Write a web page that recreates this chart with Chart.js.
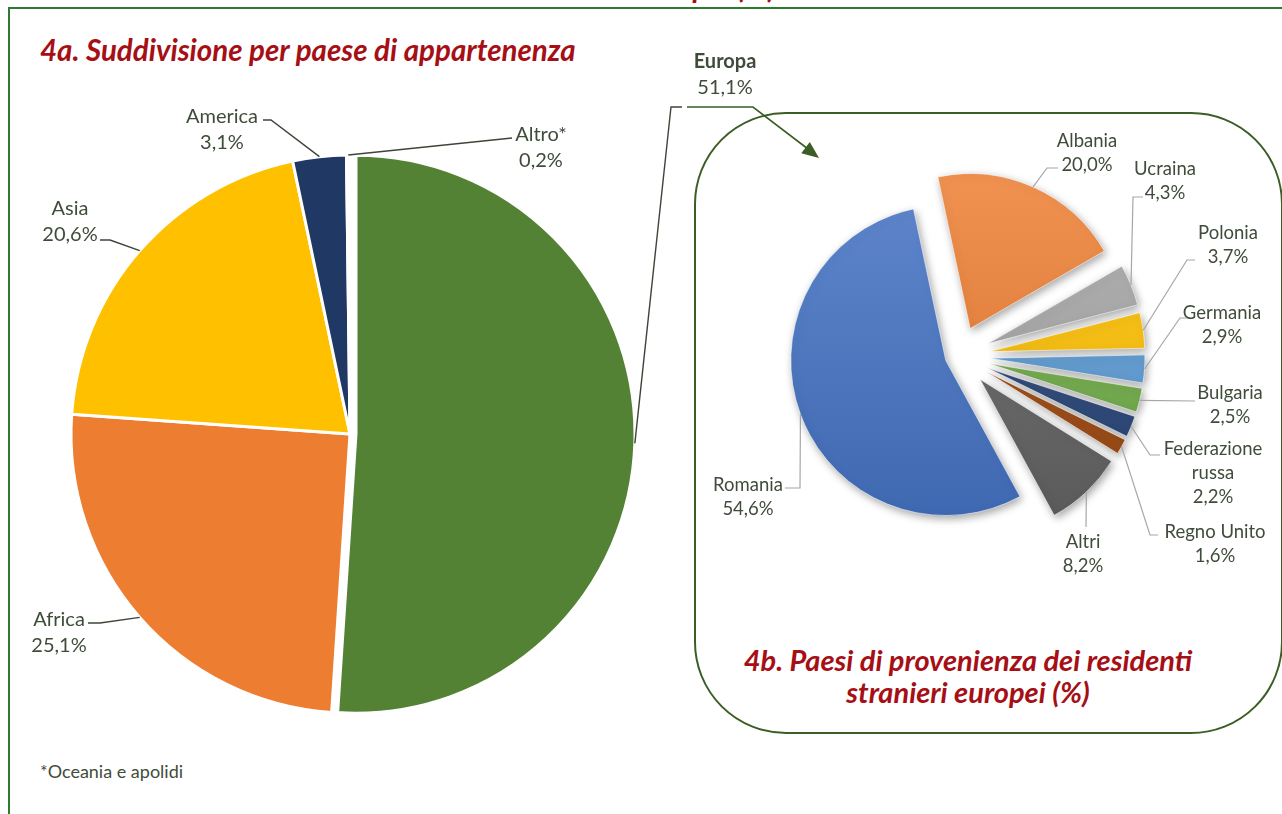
<!DOCTYPE html>
<html lang="it">
<head>
<meta charset="utf-8">
<title>Residenti stranieri per provenienza</title>
<script src="https://cdn.jsdelivr.net/npm/chart.js@4.4.1/dist/chart.umd.min.js"></script>
<style>
  body { margin: 0; background: #fff; font-family: Lato, 'Noto Sans', sans-serif; }
  #page { position: relative; width: 1282px; height: 814px; overflow: hidden; background: #fff; }
  .frame { position: absolute; left: 8px; top: 7px; width: 1400px; height: 900px; border: 2px solid #2e7a30; }
  .box { position: absolute; left: 694px; top: 112px; width: 585px; height: 618px; border: 2px solid #3b5e24; border-radius: 92px; }
  canvas { position: absolute; left: 0; top: 0; }
  .title { position: absolute; color: #a50f15; font-weight: 700; font-style: italic; font-size: 29px; white-space: nowrap; line-height: 32px; }
  .lbl { position: absolute; color: #3f4c3a; text-align: center; white-space: pre; transform: translateX(-50%); }
</style>
</head>
<body>
<div id="page">
  <div class="title" style="left:122px; top:-30px; font-size:30px">4. Residenti stranieri e residenti stranieri europei (%)</div>
  <div class="frame"></div>
  <div class="box"></div>
  <div class="title" style="left:40px; top:34px; font-size:29.5px">4a. Suddivisione per paese di appartenenza</div>
  <div class="title" style="left:968px; top:644px; transform:translateX(-50%); text-align:center; line-height:32px">4b. Paesi di provenienza dei residenti<br>stranieri europei (%)</div>
  <div class="lbl" style="left:40px; top:760px; transform:none; font-size:18px">*Oceania e apolidi</div>
  <canvas id="world-chart" width="1282" height="814"></canvas>
  <canvas id="europe-chart" width="1282" height="814"></canvas>
  <div id="labels"></div>
</div>
<script>
// data
const worldLabels = ['Europa', 'Africa', 'Asia', 'America', 'Altro*']
const worldValues = [51.1, 25.1, 20.6, 3.1, 0.2]

const europeLabels = ['Romania', 'Albania', 'Ucraina', 'Polonia', 'Germania', 'Bulgaria', 'Federazione russa', 'Regno Unito', 'Altri']
const europeValues = [54.6, 20.0, 4.3, 3.7, 2.9, 2.5, 2.2, 1.6, 8.2]

// styles
const worldColors = ['#548235', '#ED7D31', '#FFC000', '#203864', '#F4F4F4']
const europeColors = ['#4472C4', '#ED7D31', '#A5A5A5', '#FFC000', '#5B9BD5', '#70AD47', '#264478', '#9E480E', '#636363']

// how far each slice is pulled out (px)
const worldExplode = [6, 0, 0, 0, 0]
const europeExplode = [13, 30, 32, 32, 32, 32, 32, 32, 32]

// label layout: centre of first text line, then leader points from the label towards the slice
const worldLabelPos = [[725, 60], [59, 618], [70, 207], [222, 115], [541, 133]]
const worldLeaders = [
    [[682, 107], [671, 107]],
    [[88, 623], [100, 623]],
    [[100, 240], [110, 240]],
    [[263, 120], [271, 120]],
    [[512, 138]]
]
const europeLabelPos = [[748, 484], [1087, 140], [1165, 168], [1228, 232], [1222, 312], [1230, 392], [1213, 448], [1215, 531], [1083, 541]]
const europeLeaders = [
    [[785, 488], [800, 488]],
    [[1058, 168], [1047, 168]],
    [[1143, 197], [1133, 197]],
    [[1195, 260], [1187, 260]],
    [[1188, 318], [1180, 318]],
    [[1195, 401]],
    [[1160, 455], [1150, 455]],
    [[1158, 535], [1150, 535]],
    [[1086, 527]]
]

const fmt = v => v.toFixed(1).replace('.', ',') + '%'
const wrapName = name => name.length > 12 ? name.replace(' ', '\n') : name

const shade = (hex, amt) => {
    const n = parseInt(hex.slice(1), 16)
    let rgb = [n >> 16, (n >> 8) & 255, n & 255]
    rgb = rgb.map(c => Math.round(amt > 0 ? c + (255 - c) * amt : c * (1 + amt)))
    return `rgb(${rgb.join(',')})`
}

const labelsDiv = document.getElementById('labels')
const addLabels = (names, values, pos, size, lineH, boldIdx) => {
    names.forEach((name, i) => {
        const el = document.createElement('div')
        el.className = 'lbl'
        el.style.left = pos[i][0] + 'px'
        el.style.top = (pos[i][1] - lineH / 2) + 'px'
        el.style.fontSize = size + 'px'
        el.style.lineHeight = lineH + 'px'
        const nameHtml = i === boldIdx ? `<b>${name}</b>` : wrapName(name)
        el.innerHTML = nameHtml + '\n' + fmt(values[i])
        labelsDiv.appendChild(el)
    })
}
addLabels(worldLabels, worldValues, worldLabelPos, 20, 26, 0)
addLabels(europeLabels, europeValues, europeLabelPos, 18.5, 24, -1)

const pieDecor = (explode, leaders, leaderColor, leaderWidth, shadow, extra) => ({
    id: 'pieDecor',
    beforeDatasetsDraw(chart) {
        const {left, right, top, bottom} = chart.chartArea
        const cx = (left + right) / 2, cy = (top + bottom) / 2
        chart.getDatasetMeta(0).data.forEach((arc, i) => {
            const mid = (arc.startAngle + arc.endAngle) / 2
            arc.x = cx + Math.cos(mid) * explode[i]
            arc.y = cy + Math.sin(mid) * explode[i]
        })
        if (shadow) {
            const ctx = chart.ctx
            ctx.save()
            ctx.shadowColor = 'rgba(0,0,0,0.35)'
            ctx.shadowBlur = 9
            ctx.shadowOffsetX = 2
            ctx.shadowOffsetY = 3
        }
    },
    afterDatasetsDraw(chart) {
        if (shadow) chart.ctx.restore()
    },
    afterDraw(chart) {
        const ctx = chart.ctx
        ctx.save()
        ctx.strokeStyle = leaderColor
        ctx.lineWidth = leaderWidth
        chart.getDatasetMeta(0).data.forEach((arc, i) => {
            const mid = (arc.startAngle + arc.endAngle) / 2
            const pts = leaders[i].concat([[arc.x + Math.cos(mid) * arc.outerRadius, arc.y + Math.sin(mid) * arc.outerRadius]])
            ctx.beginPath()
            pts.forEach((p, k) => k ? ctx.lineTo(p[0], p[1]) : ctx.moveTo(p[0], p[1]))
            ctx.stroke()
        })
        ctx.restore()
        if (extra) extra(ctx)
    }
})

// arrow from the Europa label to the detail box
const drawArrow = ctx => {
    ctx.save()
    ctx.strokeStyle = '#3b5e24'
    ctx.fillStyle = '#3b5e24'
    ctx.lineWidth = 1.6
    ctx.beginPath()
    ctx.moveTo(687, 107)
    ctx.lineTo(753, 107)
    ctx.lineTo(808, 149)
    ctx.stroke()
    const ang = Math.atan2(50, 65)
    const tip = [819, 158]
    ctx.beginPath()
    ctx.moveTo(tip[0], tip[1])
    ctx.lineTo(tip[0] - 17 * Math.cos(ang) + 7 * Math.sin(ang), tip[1] - 17 * Math.sin(ang) - 7 * Math.cos(ang))
    ctx.lineTo(tip[0] - 17 * Math.cos(ang) - 7 * Math.sin(ang), tip[1] - 17 * Math.sin(ang) + 7 * Math.cos(ang))
    ctx.closePath()
    ctx.fill()
    ctx.restore()
}

const worldChart = new Chart(document.getElementById('world-chart'), {
    type: 'pie',
    data: {
        labels: worldLabels,
        datasets: [{
            data: worldValues,
            backgroundColor: worldColors,
            borderColor: '#ffffff',
            borderWidth: 3,
            radius: 279,
            rotation: 0
        }]
    },
    options: {
        responsive: false,
        animation: false,
        events: [],
        layout: { padding: { left: 0, right: 582, top: 54, bottom: 0 } },
        plugins: { legend: { display: false }, tooltip: { enabled: false } }
    },
    plugins: [pieDecor(worldExplode, worldLeaders, '#3d4538', 1.4, false, drawArrow)]
})

const europeChart = new Chart(document.getElementById('europe-chart'), {
    type: 'pie',
    data: {
        labels: europeLabels,
        datasets: [{
            data: europeValues,
            backgroundColor: c => {
                const base = europeColors[c.dataIndex]
                const area = c.chart.chartArea
                if (!area) return base
                const cy = (area.top + area.bottom) / 2
                const g = c.chart.ctx.createLinearGradient(0, cy - 175, 0, cy + 175)
                g.addColorStop(0, shade(base, 0.15))
                g.addColorStop(1, shade(base, -0.1))
                return g
            },
            borderColor: 'rgba(255,255,255,0.55)',
            borderWidth: 1,
            radius: 155,
            rotation: 151.4
        }]
    },
    options: {
        responsive: false,
        animation: false,
        events: [],
        layout: { padding: { left: 634, right: 0, top: 0, bottom: 102 } },
        plugins: { legend: { display: false }, tooltip: { enabled: false } }
    },
    plugins: [pieDecor(europeExplode, europeLeaders, '#a6a6a6', 1.2, true, null)]
})
</script>
</body>
</html>
